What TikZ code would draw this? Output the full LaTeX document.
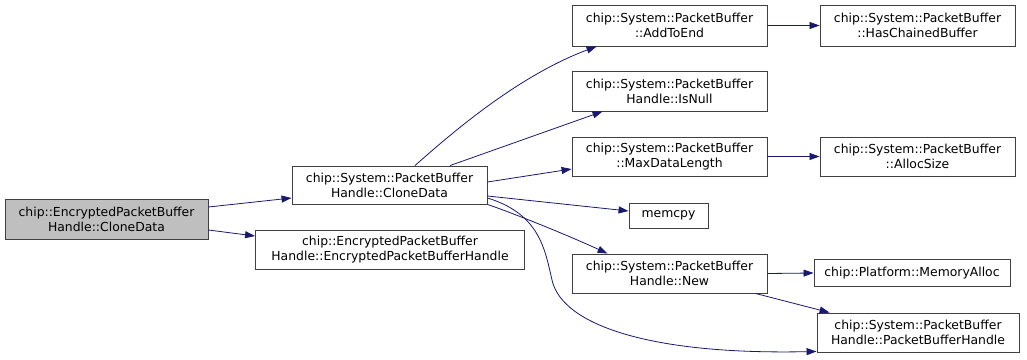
\documentclass[tikz,border=0pt]{standalone}
\usepackage{fontspec}
\setmainfont{DejaVu Sans}
\usetikzlibrary{arrows.meta}
\definecolor{edgeblue}{HTML}{191970}
\definecolor{boxline}{HTML}{404040}
\definecolor{rootfill}{HTML}{BFBFBF}
\begin{document}
\begin{tikzpicture}[x=1pt,y=-1pt,
  fn/.style={draw=boxline,line width=0.9pt,fill=white,inner sep=0pt,align=center,
    font=\fontsize{12.4}{15}\selectfont,anchor=center},
  call/.style={draw=edgeblue,line width=0.8pt,
    -{Triangle[length=10pt,width=7pt,fill=edgeblue]}}]
\useasboundingbox (0,0) rectangle (1027,359);
% function boxes
\node[fn,fill=rootfill,minimum width=203pt,minimum height=40pt] (A) at (106.5,219)
  {chip::EncryptedPacketBuffer\\Handle::CloneData};
\node[fn,minimum width=195pt,minimum height=38pt] (B) at (389.5,185)
  {chip::System::PacketBuffer\\Handle::CloneData};
\node[fn,minimum width=269pt,minimum height=39pt] (C) at (390,249.5)
  {chip::EncryptedPacketBuffer\\Handle::EncryptedPacketBufferHandle};
\node[fn,minimum width=195pt,minimum height=41pt] (D) at (669.5,25.5)
  {chip::System::PacketBuffer\\::AddToEnd};
\node[fn,minimum width=195pt,minimum height=41pt] (E) at (917.5,25.5)
  {chip::System::PacketBuffer\\::HasChainedBuffer};
\node[fn,minimum width=195pt,minimum height=40pt] (F) at (669.5,91)
  {chip::System::PacketBuffer\\Handle::IsNull};
\node[fn,minimum width=195pt,minimum height=39pt] (G) at (669.5,156.5)
  {chip::System::PacketBuffer\\::MaxDataLength};
\node[fn,minimum width=195pt,minimum height=39pt] (H) at (917.5,156.5)
  {chip::System::PacketBuffer\\::AllocSize};
\node[fn,minimum width=79pt,minimum height=25pt] (I) at (668.5,215.5) {memcpy};
\node[fn,minimum width=195pt,minimum height=39pt] (J) at (669.5,273.5)
  {chip::System::PacketBuffer\\Handle::New};
\node[fn,minimum width=196pt,minimum height=27pt] (K) at (912,273)
  {chip::Platform::MemoryAlloc};
\node[fn,minimum width=202pt,minimum height=39pt] (L) at (918,332.5)
  {chip::System::PacketBuffer\\Handle::PacketBufferHandle};
% calls
\draw[call] ([yshift=12pt]A.east) -- ([yshift=-13pt]B.west);
\draw[call] ([yshift=-11pt]A.east) -- ([yshift=13.5pt]C.west);
\draw[call] ([xshift=25.5pt]B.north) .. controls (455,130) and (520,75) .. ([xshift=25pt]D.south west);
\draw[call] ([xshift=60.5pt]B.north) -- ([xshift=31pt]F.south west);
\draw[call] ([yshift=3pt]B.east) -- ([yshift=-12.5pt]G.west);
\draw[call] ([yshift=-11pt]B.east) -- ([yshift=4.5pt]I.west);
\draw[call] (B.south east) .. controls (510,212) and (565,234) .. ([xshift=36pt]J.north west);
\draw[call] ([yshift=-13pt]B.east) .. controls (540,214) and (545,250) .. (552,280)
  .. controls (562,325) and (650,355) .. ([yshift=1pt]L.south west);
\draw[call] (D.east) -- (E.west);
\draw[call] (G.east) -- (H.west);
\draw[call] (J.east) -- (K.west);
\draw[call] ([xshift=-12pt]J.south east) -- ([xshift=13pt]L.north west);
\end{tikzpicture}
\end{document}
